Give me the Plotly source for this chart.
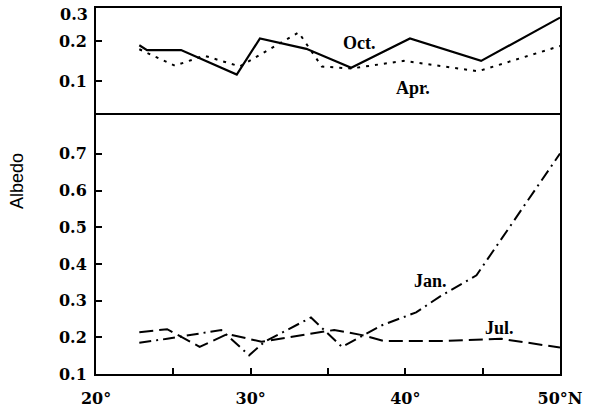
import plotly.graph_objects as go
from plotly.subplots import make_subplots

# ---- data (latitude in degrees N, albedo) ----
oct_lat = [22.8, 23.3, 25.5, 29.1, 30.6, 33.6, 36.5, 40.3, 44.9, 50.0]
oct_alb = [0.190, 0.178, 0.178, 0.117, 0.207, 0.181, 0.134, 0.207, 0.151, 0.259]

apr_lat = [22.8, 25.1, 27.0, 29.3, 33.1, 34.6, 36.5, 39.9, 44.7, 50.0]
apr_alb = [0.180, 0.139, 0.164, 0.137, 0.222, 0.137, 0.132, 0.151, 0.125, 0.188]

jan_lat = [22.8, 24.6, 28.1, 29.9, 30.9, 33.9, 35.9, 38.5, 40.7, 42.3, 44.6, 50.0]
jan_alb = [0.185, 0.196, 0.220, 0.151, 0.188, 0.254, 0.174, 0.233, 0.268, 0.313, 0.369, 0.701]

jul_lat = [22.8, 24.6, 26.7, 28.5, 30.7, 35.4, 37.2, 38.6, 42.6, 46.2, 50.0]
jul_alb = [0.214, 0.222, 0.174, 0.209, 0.188, 0.220, 0.206, 0.190, 0.190, 0.196, 0.172]

x_ticks = [20, 25, 30, 35, 40, 45, 50]
x_ticktext = ["20°", "", "30°", "", "40°", "", "50°N"]
upper_ticks = [0.1, 0.2]
lower_ticks = [0.1, 0.2, 0.3, 0.4, 0.5, 0.6, 0.7]

W, H = 590, 416
ML, MR, MT, MB = 96, 28, 8, 33
split = (383 - 118) / (H - MT - MB)

fig = make_subplots(rows=2, cols=1, shared_xaxes=False, vertical_spacing=0,
                    row_heights=[1 - split, split])

lw = 2
fig.add_trace(go.Scatter(x=oct_lat, y=oct_alb, mode="lines",
                         line=dict(color="black", width=2.2), name="Oct."), row=1, col=1)
fig.add_trace(go.Scatter(x=apr_lat, y=apr_alb, mode="lines",
                         line=dict(color="black", width=lw, dash="3px,6px"), name="Apr."), row=1, col=1)
fig.add_trace(go.Scatter(x=jan_lat, y=jan_alb, mode="lines",
                         line=dict(color="black", width=lw, dash="12px,5px,2px,5px"), name="Jan."), row=2, col=1)
fig.add_trace(go.Scatter(x=jul_lat, y=jul_alb, mode="lines",
                         line=dict(color="black", width=lw, dash="14px,6px"), name="Jul."), row=2, col=1)

tickfont = dict(family="DejaVu Serif", size=16, color="black", weight="bold")

fig.update_xaxes(range=[20, 50], linecolor="black", linewidth=2,
                 showgrid=False, zeroline=False)
fig.update_xaxes(showticklabels=False, ticks="", side="top", showline=True,
                 mirror=False, row=1, col=1)
fig.update_xaxes(tickvals=x_ticks, ticktext=x_ticktext, ticks="inside", ticklen=6,
                 tickwidth=1.5, tickcolor="black", tickfont=tickfont,
                 showline=True, mirror=True,
                 ticklabelstandoff=9, row=2, col=1)

fig.update_yaxes(showline=True, mirror=True, linecolor="black", linewidth=2,
                 showgrid=False, zeroline=False, ticks="inside", ticklen=6,
                 tickwidth=1.5, tickcolor="black", tickfont=tickfont,
                 ticklabelstandoff=4)
fig.update_yaxes(range=[0.015, 0.283], tickvals=upper_ticks,
                 ticktext=["0.1", "0.2"], row=1, col=1)
fig.update_yaxes(range=[0.1, 0.805], tickvals=lower_ticks,
                 ticktext=[f"{v:.1f}" for v in lower_ticks], row=2, col=1)

labfont = dict(family="Liberation Serif", size=18, color="black", weight="bold")
anns = [
    dict(text="0.3", x=0, xref="paper", xanchor="right", xshift=-6,
         y=1, yref="paper", yanchor="middle", yshift=-6, font=tickfont),
    dict(text="Oct.", x=37.0, y=0.2, xref="x", yref="y", font=labfont, yshift=-2),
    dict(text="Apr.", x=40.5, y=0.091, xref="x", yref="y", font=labfont, yshift=-3),
    dict(text="Jan.", x=41.6, y=0.37, xref="x2", yref="y2", font=labfont, yshift=-6),
    dict(text="Jul.", x=46.1, y=0.243, xref="x2", yref="y2", font=labfont, yshift=-6),
    dict(text="Albedo", x=(16 - ML) / (W - ML - MR), xref="paper", xanchor="center",
         y=1 - (185 - MT) / (H - MT - MB), yref="paper", textangle=-90,
         font=dict(family="Liberation Sans", size=18, color="black")),
]
for a in anns:
    a["showarrow"] = False
fig.update_layout(annotations=anns)

fig.update_layout(width=W, height=H, margin=dict(l=ML, r=MR, t=MT, b=MB),
                  plot_bgcolor="white", paper_bgcolor="white", showlegend=False)

fig.write_html("out.html", config={"displayModeBar": False},
               post_script="document.body.style.margin='0px';document.body.style.overflow='hidden';")
